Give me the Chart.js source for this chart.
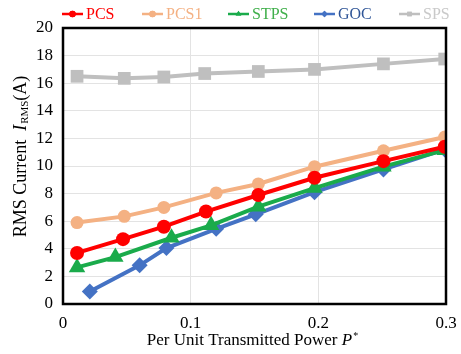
<!DOCTYPE html>
<html>
<head>
<meta charset="utf-8">
<script src="https://cdn.jsdelivr.net/npm/chart.js@4"></script>
<style>
  html, body { margin: 0; padding: 0; background: #fff; }
  #wrap { width: 461px; height: 354px; }
</style>
</head>
<body>
<div id="wrap"><canvas id="chartRms"></canvas></div>
<script>
//* DATOS
const xTicks = [0, 0.1, 0.2, 0.3];
const yTicks = [0, 2, 4, 6, 8, 10, 12, 14, 16, 18, 20];

const pcsX  = [0.011, 0.047, 0.079, 0.112, 0.153, 0.197, 0.251, 0.299];
const pcsY  = [3.7, 4.7, 5.6, 6.7, 7.9, 9.15, 10.35, 11.4];
const pcs1X = [0.011, 0.048, 0.079, 0.12, 0.153, 0.197, 0.251, 0.299];
const pcs1Y = [5.9, 6.35, 7.0, 8.05, 8.7, 9.95, 11.1, 12.1];
const stpsX = [0.011, 0.041, 0.085, 0.116, 0.153, 0.197, 0.251, 0.299];
const stpsY = [2.65, 3.4, 4.8, 5.7, 7.05, 8.4, 9.95, 11.15];
const gocX  = [0.021, 0.06, 0.081, 0.12, 0.151, 0.197, 0.251, 0.299];
const gocY  = [0.9, 2.8, 4.05, 5.45, 6.5, 8.1, 9.75, 11.2];
const spsX  = [0.011, 0.048, 0.079, 0.111, 0.153, 0.197, 0.251, 0.299];
const spsY  = [16.5, 16.35, 16.45, 16.7, 16.85, 17.0, 17.4, 17.75];

const FONT = '"Liberation Serif", "Times New Roman", serif';
const toPts = (xs, ys) => xs.map((x, i) => ({ x: x, y: ys[i] }));

const serie = (label, xs, ys, color, legendColor, style, radius, order) => ({
    label: label,
    data: toPts(xs, ys),
    borderColor: color,
    backgroundColor: color,
    legendColor: legendColor,
    borderWidth: 4,
    pointStyle: style,
    pointRadius: radius,
    pointHoverRadius: radius,
    pointBorderWidth: 0,
    tension: 0,
    order: order
});

const datasets = [
    serie('PCS',  pcsX,  pcsY,  '#FF0000', '#FF0000', 'circle',   7,   1),
    serie('PCS1', pcs1X, pcs1Y, '#F4B183', '#F4B183', 'circle',   6.5, 4),
    serie('STPS', stpsX, stpsY, '#1AAB4B', '#3FAF4A', 'triangle', 9.5, 2),
    serie('GOC',  gocX,  gocY,  '#4472C4', '#2F5597', 'rectRot',  8,   3),
    serie('SPS',  spsX,  spsY,  '#BFBFBF', '#C9C9C9', 'rect',     9,   5)
];

// leyenda, marco y titulos de ejes dibujados a mano
const decor = {
    id: 'decor',
    afterDraw(chart) {
        const ctx = chart.ctx;
        const a = chart.chartArea;
        ctx.save();
        // marco negro
        ctx.strokeStyle = '#000';
        ctx.lineWidth = 2.5;
        ctx.strokeRect(a.left, a.top, a.right - a.left, a.bottom - a.top);

        // leyenda
        const legendX = [62, 142, 228, 314, 399];
        ctx.font = '16px ' + FONT;
        ctx.textBaseline = 'middle';
        chart.data.datasets.forEach((ds, i) => {
            const x0 = legendX[i], y0 = 14;
            ctx.strokeStyle = ds.borderColor;
            ctx.fillStyle = ds.borderColor;
            ctx.lineWidth = 2.5;
            ctx.beginPath();
            ctx.moveTo(x0, y0);
            ctx.lineTo(x0 + 21, y0);
            ctx.stroke();
            Chart.helpers.drawPoint(ctx, { pointStyle: ds.pointStyle, radius: 3.2, rotation: 0, borderWidth: 0 }, x0 + 10.5, y0);
            ctx.fill();
            ctx.fillStyle = ds.legendColor;
            ctx.textAlign = 'left';
            ctx.fillText(ds.label, x0 + 24, y0 + 1);
        });

        // titulo eje X
        ctx.fillStyle = '#000';
        const xt1 = 'Per Unit Transmitted Power ';
        ctx.font = '17px ' + FONT;
        const w1 = ctx.measureText(xt1).width;
        ctx.font = 'italic 17px ' + FONT;
        const w2 = ctx.measureText('P').width;
        ctx.font = '10px ' + FONT;
        const w3 = ctx.measureText('*').width;
        let sx = 252 - (w1 + w2 + w3) / 2;
        const sy = 341;
        ctx.textAlign = 'left';
        ctx.font = '17px ' + FONT;
        ctx.fillText(xt1, sx, sy);
        ctx.font = 'italic 17px ' + FONT;
        ctx.fillText('P', sx + w1, sy);
        ctx.font = '10px ' + FONT;
        ctx.fillText('*', sx + w1 + w2 + 1, sy - 5);

        // titulo eje Y
        ctx.translate(21, 157);
        ctx.rotate(-Math.PI / 2);
        const p1 = 'RMS Current  ';
        ctx.font = '18px ' + FONT;
        const q1 = ctx.measureText(p1).width;
        ctx.font = 'italic 18px ' + FONT;
        const q2 = ctx.measureText('I').width;
        ctx.font = '11px ' + FONT;
        const q3 = ctx.measureText('RMS').width;
        ctx.font = '18px ' + FONT;
        const q4 = ctx.measureText('(A)').width;
        let ty = -(q1 + q2 + q3 + q4) / 2;
        ctx.font = '18px ' + FONT;
        ctx.fillText(p1, ty, 0);
        ctx.font = 'italic 18px ' + FONT;
        ctx.fillText('I', ty + q1, 0);
        ctx.font = '11px ' + FONT;
        ctx.fillText('RMS', ty + q1 + q2 + 1, 4);
        ctx.font = '18px ' + FONT;
        ctx.fillText('(A)', ty + q1 + q2 + q3 + 1, 0);
        ctx.restore();
    }
};

Chart.defaults.font.family = FONT;
Chart.defaults.color = '#000';

new Chart(document.getElementById('chartRms'), {
    type: 'line',
    data: { datasets: datasets },
    options: {
        responsive: true,
        maintainAspectRatio: false,
        animation: false,
        layout: { padding: { top: 28, right: 15, left: 0, bottom: 0 } },
        plugins: {
            legend: { display: false },
            tooltip: { enabled: false }
        },
        scales: {
            x: {
                type: 'linear',
                min: 0,
                max: 0.3,
                afterBuildTicks: (s) => { s.ticks = xTicks.map(v => ({ value: v })); },
                afterFit: (s) => { s.height = 50; s.paddingLeft = 0; s.paddingRight = 0; },
                ticks: {
                    font: { size: 17 },
                    padding: 9,
                    maxRotation: 0,
                    callback: (v) => String(v)
                },
                grid: { color: '#E3E3E3', lineWidth: 1, drawTicks: false },
                border: { display: false }
            },
            y: {
                min: 0,
                max: 20,
                afterBuildTicks: (s) => { s.ticks = yTicks.map(v => ({ value: v })); },
                afterFit: (s) => { s.width = 63; s.paddingTop = 0; s.paddingBottom = 0; },
                ticks: {
                    font: { size: 17 },
                    padding: 10
                },
                grid: { color: '#E3E3E3', lineWidth: 1, drawTicks: false },
                border: { display: false }
            }
        }
    },
    plugins: [decor]
});
</script>
</body>
</html>
